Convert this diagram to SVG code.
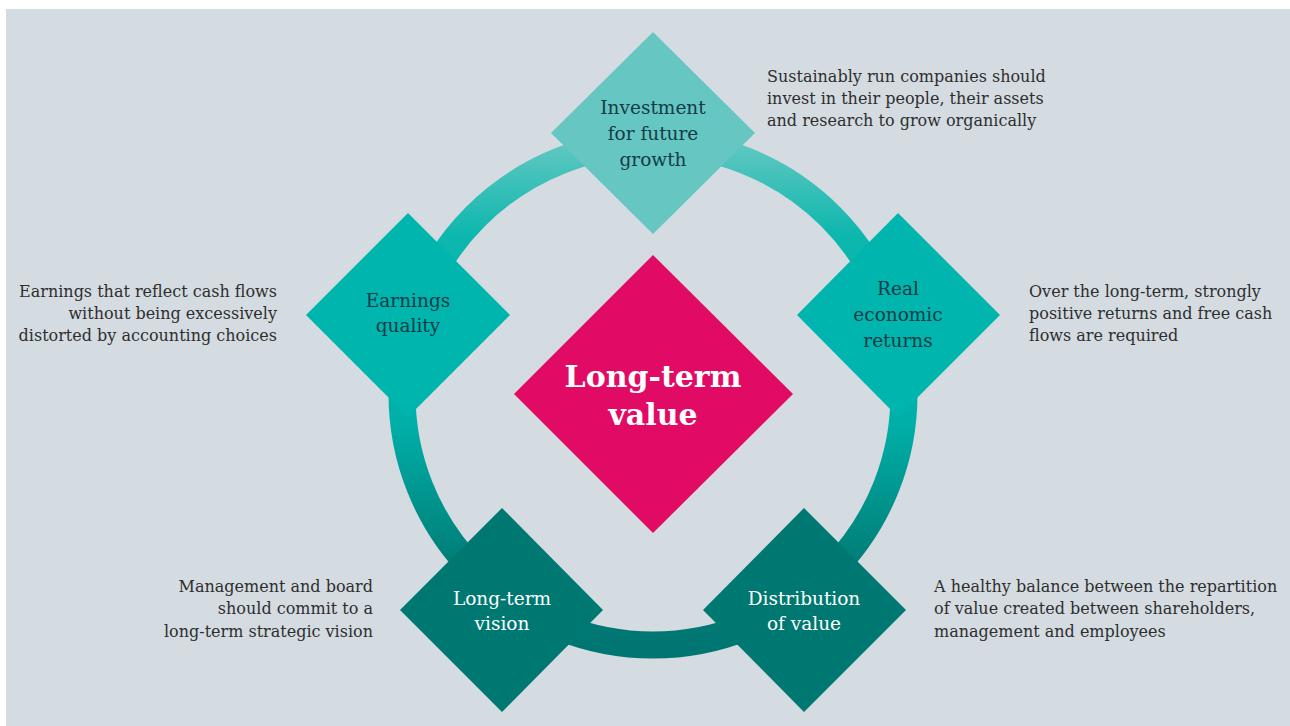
<svg xmlns="http://www.w3.org/2000/svg" width="1290" height="726" viewBox="0 0 1290 726">
  <defs>
    <linearGradient id="ringGrad" gradientUnits="userSpaceOnUse" x1="0" y1="130" x2="0" y2="660">
      <stop offset="0" stop-color="#6ccac4"/>
      <stop offset="0.2" stop-color="#0cb7ae"/>
      <stop offset="0.55" stop-color="#00b0a8"/>
      <stop offset="0.82" stop-color="#007d77"/>
      <stop offset="1" stop-color="#007571"/>
    </linearGradient>
    <style>
      .bg { fill: #d4dce2; }
      .ring { fill: none; stroke: url(#ringGrad); stroke-width: 27; }
      .lbl { font-family: "DejaVu Serif", "Liberation Serif", serif; font-size: 18.5px; text-anchor: middle; }
      .dark { fill: #123c47; }
      .light { fill: #ffffff; }
      .desc { font-family: "DejaVu Serif", "Liberation Serif", serif; font-size: 16px; fill: #2e2e2e; }
      .end { text-anchor: end; }
      .main { font-family: "DejaVu Serif", "Liberation Serif", serif; font-size: 30px; font-weight: bold; fill: #ffffff; text-anchor: middle; }
    </style>
  </defs>
  <rect x="0" y="0" width="1290" height="726" fill="#ffffff"/>
  <rect class="bg" x="6" y="9" width="1284" height="717"/>

  <g id="connectors">
    <circle class="ring" cx="653" cy="394" r="251"/>
  </g>

  <g id="node-center">
    <polygon points="653,255 793,394 653,533 514,394" fill="#e10a64"/>
    <text class="main" x="653" y="387">Long-term</text>
    <text class="main" x="653" y="425">value</text>
  </g>

  <g id="node-investment">
    <polygon points="653,32 755,133 653,234 551,133" fill="#66c7c2"/>
    <text class="lbl dark" x="653" y="114">Investment</text>
    <text class="lbl dark" x="653" y="140">for future</text>
    <text class="lbl dark" x="653" y="166">growth</text>
  </g>

  <g id="node-earnings">
    <polygon points="408,213 510,315 408,417 306,315" fill="#00b5ad"/>
    <text class="lbl dark" x="408" y="307">Earnings</text>
    <text class="lbl dark" x="408" y="332">quality</text>
  </g>

  <g id="node-real">
    <polygon points="898,213 1000,315 898,417 797,315" fill="#00b5ad"/>
    <text class="lbl dark" x="898" y="295">Real</text>
    <text class="lbl dark" x="898" y="321">economic</text>
    <text class="lbl dark" x="898" y="347">returns</text>
  </g>

  <g id="node-vision">
    <polygon points="502,508 603,610 502,712 400,610" fill="#007872"/>
    <text class="lbl light" x="502" y="605">Long-term</text>
    <text class="lbl light" x="502" y="630">vision</text>
  </g>

  <g id="node-distribution">
    <polygon points="804,508 906,610 804,712 703,610" fill="#007872"/>
    <text class="lbl light" x="804" y="605">Distribution</text>
    <text class="lbl light" x="804" y="630">of value</text>
  </g>

  <g id="desc-investment">
    <text class="desc" x="767" y="82">Sustainably run companies should</text>
    <text class="desc" x="767" y="104">invest in their people, their assets</text>
    <text class="desc" x="767" y="126">and research to grow organically</text>
  </g>
  <g id="desc-earnings">
    <text class="desc end" x="277" y="297">Earnings that reflect cash flows</text>
    <text class="desc end" x="277" y="319">without being excessively</text>
    <text class="desc end" x="277" y="341">distorted by accounting choices</text>
  </g>
  <g id="desc-real">
    <text class="desc" x="1029" y="297">Over the long-term, strongly</text>
    <text class="desc" x="1029" y="319">positive returns and free cash</text>
    <text class="desc" x="1029" y="341">flows are required</text>
  </g>
  <g id="desc-vision">
    <text class="desc end" x="373" y="592">Management and board</text>
    <text class="desc end" x="373" y="614">should commit to a</text>
    <text class="desc end" x="373" y="637">long-term strategic vision</text>
  </g>
  <g id="desc-distribution">
    <text class="desc" x="934" y="592">A healthy balance between the repartition</text>
    <text class="desc" x="934" y="614">of value created between shareholders,</text>
    <text class="desc" x="934" y="637">management and employees</text>
  </g>
</svg>
